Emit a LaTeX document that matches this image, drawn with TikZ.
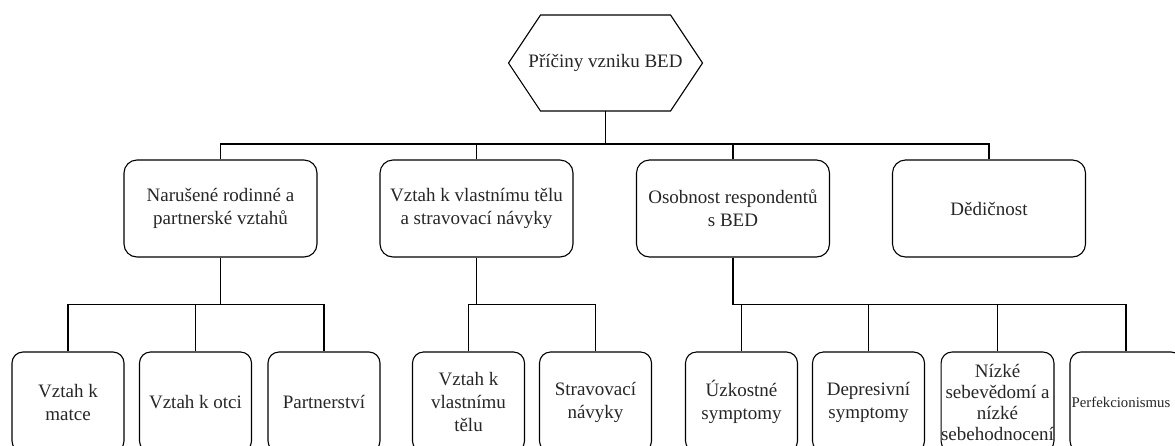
\documentclass[tikz,border=0pt]{standalone}
\usepackage{fontspec}
\setmainfont{Liberation Serif}
\begin{document}
\begin{tikzpicture}[x=1pt,y=-1pt,
  txt/.style={text=black!85, align=center, font=\fontsize{19}{23}\selectfont},
  topbox/.style={txt, draw, line width=1.1pt, rounded corners=13pt,
    minimum width=193pt, minimum height=97pt, inner sep=2pt},
  leafbox/.style={txt, draw, line width=1.1pt, rounded corners=11pt,
    minimum width=112pt, minimum height=100pt, inner sep=0pt},
  link/.style={line width=1.1pt}]
\clip (0,0) rectangle (1175,445);

% root: hexagon drawn around its label
\node[txt] (root) at (605.5,63) {Příčiny vzniku BED};
\coordinate (rootbot) at ([yshift=-48pt]root.center);
\draw[link] ([xshift=-97pt]root.center) -- ([xshift=-65pt,yshift=48pt]root.center)
  -- ([xshift=65pt,yshift=48pt]root.center) -- ([xshift=97pt]root.center)
  -- ([xshift=65pt,yshift=-48pt]root.center) -- ([xshift=-65pt,yshift=-48pt]root.center)
  -- cycle;

% first level
\node[topbox] (b1) at (220.5,208.5) {Narušené rodinné a\\partnerské vztahů};
\node[topbox] (b2) at (476.5,208.5) {Vztah k vlastnímu tělu\\a stravovací návyky};
\node[topbox] (b3) at (733,208.5) {Osobnost respondentů\\s BED};
\node[topbox] (b4) at (989,208.5) {Dědičnost};

% second level
\node[leafbox] (l1) at (68,402) {Vztah k\\matce};
\node[leafbox] (l2) at (195.5,402) {Vztah k otci};
\node[leafbox] (l3) at (324,402) {Partnerství};
\node[leafbox] (l4) at (468.5,402) {Vztah k\\vlastnímu\\tělu};
\node[leafbox] (l5) at (595.5,402) {Stravovací\\návyky};
\node[leafbox] (l6) at (741.5,402) {Úzkostné\\symptomy};
\node[leafbox] (l7) at (868.5,402) {Depresivní\\symptomy};
\node[leafbox, font=\fontsize{19}{21}\selectfont] (l8) at (997.5,402)
  {Nízké\\sebevědomí a\\nízké\\sebehodnocení};
\node[leafbox] (l9) at (1126,402) {};
\node[txt, font=\fontsize{14.8}{18}\selectfont, anchor=west, inner sep=0pt]
  (l9t) at ([xshift=2pt]l9.west) {Perfekcionismus};

% connectors
\foreach \c in {b1,b2,b3,b4}
  \draw[link] (rootbot) -- ++(0,33) -| (\c.north);
\foreach \c in {l1,l2,l3}
  \draw[link] (b1.south) -- ++(0,47) -| (\c.north);
\foreach \c in {l4,l5}
  \draw[link] (b2.south) -- ++(0,47) -| (\c.north);
\foreach \c in {l6,l7,l8,l9}
  \draw[link] (b3.south) -- ++(0,47) -| (\c.north);
\end{tikzpicture}
\end{document}
